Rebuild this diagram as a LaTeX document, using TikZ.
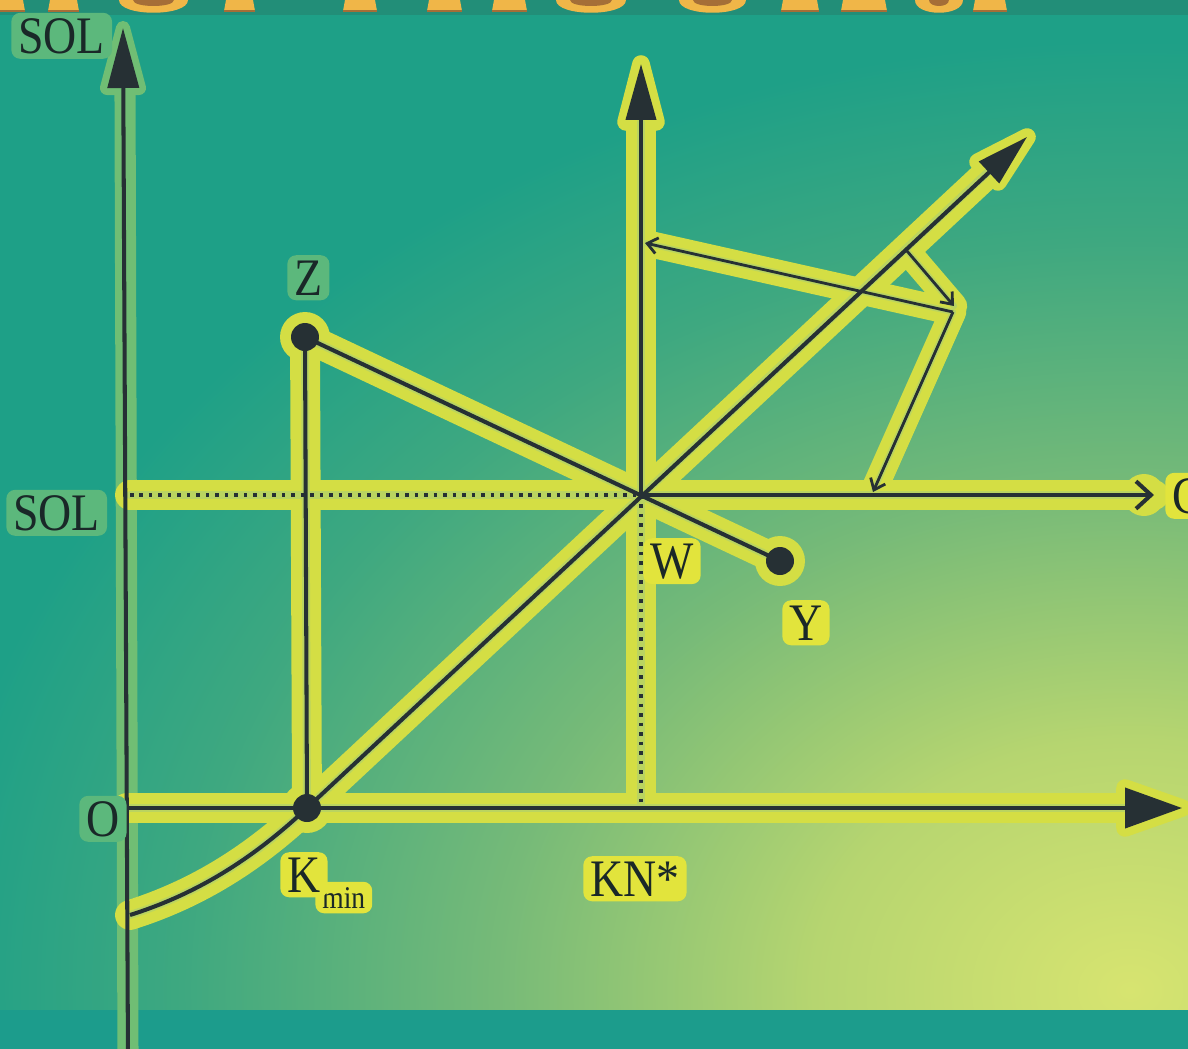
\documentclass[tikz,border=0pt]{standalone}
\usepackage{fontspec}
\setmainfont{Liberation Serif}[FakeStretch=0.87]
\usetikzlibrary{arrows.meta}
\definecolor{bgT}{RGB}{30,160,135}
\definecolor{cA}{RGB}{215,228,112}
\definecolor{cB}{RGB}{182,213,112}
\definecolor{cC}{RGB}{118,186,120}
\definecolor{cD}{RGB}{62,168,128}
\definecolor{bandT}{RGB}{28,156,140}
\definecolor{topS}{RGB}{34,142,120}
\definecolor{goldC}{RGB}{240,182,72}
\definecolor{brownC}{RGB}{165,110,55}
\definecolor{glowO}{RGB}{212,222,68}
\definecolor{glowI}{RGB}{186,212,96}
\definecolor{glowL}{RGB}{112,190,116}
\definecolor{haloY}{RGB}{226,228,60}
\definecolor{haloF}{RGB}{92,184,124}
\definecolor{dark}{RGB}{38,48,52}
\definecolor{txt}{RGB}{26,40,40}
\pgfdeclareradialshading{bgrad}{\pgfpoint{0bp}{0bp}}{color(0bp)=(cA); color(6.6bp)=(cB); color(13.2bp)=(cC); color(19.75bp)=(cD); color(25bp)=(bgT); color(50bp)=(bgT)}
\begin{document}
\begin{tikzpicture}[x=0.02cm,y=-0.02cm,
  glowout/.style={line width=17pt, draw=glowO, line cap=round, line join=round},
  glowin/.style={line width=4.5pt, draw=glowI, line cap=round, line join=round},
  glowleft/.style={line width=12pt, draw=glowL, line cap=round, line join=round},
  axisline/.style={line width=2.3pt, draw=dark},
  thinline/.style={line width=1.6pt, draw=dark},
  dotline/.style={line width=2.3pt, draw=dark, dash pattern=on 2pt off 3.4pt},
  lbl/.style={text=txt, font=\fontsize{30}{32}\selectfont, inner xsep=4pt, inner ysep=3pt, anchor=base west, rounded corners=5pt},
  haloy/.style={lbl, fill=haloY},
  halof/.style={lbl, fill=haloF},
  dotc/.style={fill=dark}
]
\useasboundingbox (0,0) rectangle (1188,1049);
% background
\begin{scope}
\clip (0,0) rectangle (1188,1049);
\fill[bgT] (0,0) rectangle (1188,1049);
\shade[shading=bgrad] (1130,990) ellipse [x radius=24cm, y radius=19cm];
\fill[bandT] (0,1010) rectangle (1188,1049);
\fill[topS] (0,0) rectangle (1188,15);
\foreach \a/\b in {0/23,50/77,226/253,345/375,429/460,494/525,783/817,843/885,975/1005} {
  \fill[goldC] (\a,0) -- (\b,0) -- (\b+2,11) -- (\a-2,11) -- cycle;
  \draw[brownC, line width=1.2pt] (\a-2,11) -- (\b+2,11);
}
\foreach \a/\b in {119/188,556/626,679/746,915/963} {
  \fill[goldC] (\a,0) .. controls (\a,17) and (\b,17) .. (\b,0) -- cycle;
  \fill[brownC] (\a+14,0) .. controls (\a+14,8) and (\b-14,8) .. (\b-14,0) -- cycle;
}
\end{scope}
% coordinates
\coordinate (Lbot) at (128,1060);
\coordinate (Ltip) at (123,28);
\coordinate (O) at (127,808);
\coordinate (Otip) at (1182,808);
\coordinate (W) at (641,495);
\coordinate (Vtip) at (641,64);
\coordinate (KN) at (641,808);
\coordinate (Sl) at (130,495);
\coordinate (Ctip) at (1154,495);
\coordinate (Cs) at (130,915);
\coordinate (Km) at (307,808);
\coordinate (Dtip) at (1027,137);
\coordinate (Z) at (305,337);
\coordinate (Y) at (780,561);
\coordinate (P) at (953,312);
\coordinate (A1) at (645,243);
\coordinate (A2) at (873,492);
\coordinate (Q) at (907,251);
\coordinate (A3) at (954,306);
% glow layer
\draw[glowleft] (Lbot) -- (125,88);
\draw[glowleft, fill=glowL, line width=8pt] (Ltip) -- (107,88) -- (139,88) -- cycle;
\draw[glowout] (O) -- (1150,808);
\draw[glowout, fill=glowO, line width=10pt] (Otip) -- (1125,788) -- (1125,828) -- cycle;
\draw[glowout] (KN) -- (641,120);
\draw[glowout, fill=glowO, line width=10pt] (Vtip) -- (626,122) -- (656,122) -- cycle;
\draw[glowout] (Sl) -- (Ctip);
\fill[glowO] (1144,495) circle (0.42cm);
\draw[glowout] (Cs) .. controls (200,893) and (256,856) .. (Km) -- (990,171);
\draw[glowout, fill=glowO, line width=10pt] (Dtip) -- (978,162) -- (998,182) -- cycle;
\draw[glowout] (Z) -- (Km);
\draw[glowout] (Z) -- (Y);
\draw[glowout, line width=15pt] (A1) -- (P) -- (A2);
\draw[glowout, line width=15pt] (Q) -- (A3);
\foreach \p in {Z,Km,Y} { \fill[glowO] (\p) circle (0.5cm); }
% inner glow
\draw[glowin] (O) -- (1125,808);
\draw[glowin] (KN) -- (641,122);
\draw[glowin] (Sl) -- (1140,495);
\draw[glowin] (Cs) .. controls (200,893) and (256,856) .. (Km) -- (988,172);
\draw[glowin] (Z) -- (Km);
\draw[glowin] (Z) -- (Y);
\draw[glowin, line width=3.5pt] (A1) -- (P) -- (A2);
\draw[glowin, line width=3.5pt] (Q) -- (A3);
% dark lines
\draw[axisline, -{Triangle[length=1.2cm,width=0.62cm]}] (Lbot) -- (Ltip);
\draw[axisline, -{Triangle[length=1.14cm,width=0.8cm]}] (O) -- (Otip);
\draw[axisline, -{Triangle[length=1.12cm,width=0.6cm]}] (W) -- (Vtip);
\draw[dotline] (W) -- (KN);
\draw[dotline] (Sl) -- (W);
\draw[axisline, -{Straight Barb[length=0.3cm,width=0.55cm]}] (W) -- (Ctip);
\draw[axisline, -{Triangle[length=1.04cm,width=0.58cm]}] (Cs) .. controls (200,893) and (256,856) .. (Km) -- (Dtip);
\draw[axisline] (Z) -- (Km);
\draw[axisline] (Z) -- (Y);
\draw[thinline, -{Straight Barb[length=0.2cm,width=0.32cm]}] (P) -- (A1);
\draw[thinline, -{Straight Barb[length=0.2cm,width=0.32cm]}] (P) -- (A2);
\draw[thinline, -{Straight Barb[length=0.2cm,width=0.32cm]}] (Q) -- (A3);
\foreach \p in {Z,Km,Y} { \fill[dotc] (\p) circle (0.28cm); }
% labels
\node[halof] (solt) at (11,53) {SOL};
\node[halof] (soll) at (6,530) {SOL};
\node[halof] (olab) at (79,836) {O};
\node[halof] (zlab) at (287,295) {Z};
\node[haloy] (wlab) at (643,578) {W};
\node[haloy] (ylab) at (782,640) {Y};
\node[haloy, font=\fontsize{18}{20}\selectfont] (mlab) at (315,908) {min};
\node[haloy] (klab) at (280,892) {K};
\node[haloy] (knlab) at (583,896) {KN*};
\node[haloy] (clab) at (1165,513) {C};
\end{tikzpicture}
\end{document}
